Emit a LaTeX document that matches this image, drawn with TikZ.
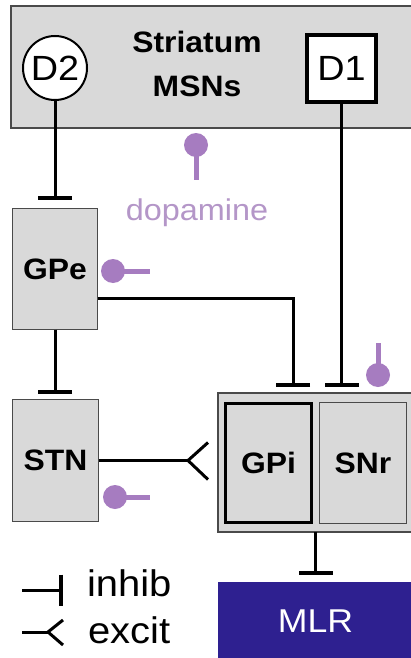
\documentclass[tikz,border=0pt]{standalone}
\usepackage{fontspec}
\setmainfont{Liberation Sans}[FakeStretch=1.08]
\usetikzlibrary{arrows.meta,calc}
\definecolor{boxgrey}{HTML}{D9D9D9}
\definecolor{edgegrey}{HTML}{4A4A4A}
\definecolor{purp}{HTML}{A67CC0}
\definecolor{purptext}{HTML}{B496C8}
\definecolor{mlrblue}{HTML}{2E2090}
\begin{document}
\begin{tikzpicture}[x=1pt,y=-1pt,
  region/.style={draw=edgegrey, line width=1.5pt, fill=boxgrey, inner sep=0pt, outer sep=0pt,
    font=\fontsize{29.5}{31}\selectfont\bfseries},
  lab/.style={inner sep=0pt, outer sep=0pt},
  boldlab/.style={lab, font=\fontsize{29.5}{31}\selectfont\bfseries},
  conn/.style={line width=3pt, black},
  inh/.style={conn, -{Bar[width=34pt, line width=4pt 0]}},
  inhsmall/.style={conn, -{Bar[width=31pt, line width=4pt 0]}},
  excitlines/.style={conn, line join=miter},
  dopa/.style={draw=purp, line width=5pt},
  legtext/.style={lab, font=\fontsize{37}{39}\selectfont}]
\useasboundingbox (0,0) rectangle (411,658);
\fill[white] (0,0) rectangle (411,658);

% Striatum
\node[region, minimum width=402pt, minimum height=122pt, anchor=north west] (str) at (11,6) {};
\node[boldlab, anchor=base] (strlab) at (197,53) {Striatum};
\node[boldlab, anchor=base] (msn) at (197,97) {MSNs};
\node[circle, draw, fill=white, line width=2pt, minimum size=64pt, inner sep=0pt,
  font=\fontsize{35}{37}\selectfont] (D2) at (55,68) {D2};
\node[draw, fill=white, line width=4pt, minimum width=69pt, minimum height=67pt, inner sep=0pt,
  font=\fontsize{35}{37}\selectfont] (D1) at (341.5,68.5) {D1};

% nuclei
\node[region, minimum width=85pt, minimum height=121pt] (GPe) at (55,269) {GPe};
\node[region, minimum width=86pt, minimum height=122pt] (STN) at (55.5,460.5) {STN};
\node[region, minimum width=195pt, minimum height=139pt] (gs) at (315.5,462.5) {};
\node[region, draw=black, line width=3pt, minimum width=86pt, minimum height=119pt] (GPi) at (268.5,463) {GPi};
\node[region, minimum width=87pt, minimum height=121pt] (SNr) at (363,463) {SNr};
\node[fill=mlrblue, draw=mlrblue, minimum width=195pt, minimum height=78pt, inner sep=0pt, text=white,
  font=\fontsize{33}{35}\selectfont] (MLR) at (315.5,621) {MLR};

% dopamine
\fill[purp] (196,145) circle (12pt);
\draw[dopa] (196,145) -- (196,180);
\node[lab, anchor=base, text=purptext, font=\fontsize{30}{32}\selectfont] (dopa) at (197,220) {dopamine};
\fill[purp] (113,271) circle (12pt);
\draw[dopa] (113,271) -- (150,271);
\fill[purp] (115,497) circle (12pt);
\draw[dopa] (115,497) -- (150,497);
\draw[dopa] (378,343) -- (378,375);
\fill[purp] (378,375) circle (12pt);

% connectors
\coordinate (gpiIn) at (293,393);
\coordinate (exV) at (188,460.5);
\draw[inh, shorten >=9pt] (D2.south) -- (D2.south |- GPe.north);
\draw[inh, shorten >=6pt] (GPe.south) -- (GPe.south |- STN.north);
\draw[inh, shorten >=6pt] ($(GPe.east)+(0,29)$) -| (gpiIn);
\draw[inh, shorten >=6pt] (D1.south) -- (D1.south |- gs.north);
\draw[inh, shorten >=7pt] (gs.south) -- (gs.south |- MLR.north);
\draw[conn] (STN.east) -- (exV);
\draw[excitlines] ($(exV)+(20,-18)$) -- (exV) -- ($(exV)+(20,19)$);

% legend
\coordinate (inhA) at (22,590);
\coordinate (inhB) at (63,590);
\draw[inhsmall] (inhA) -- (inhB);
\node[legtext, anchor=base west] (inhT) at (87,596) {inhib};
\coordinate (exA) at (22,632);
\coordinate (exB) at (48,632);
\draw[conn] (exA) -- (exB);
\draw[excitlines] ($(exB)+(15,-12)$) -- (exB) -- ($(exB)+(15,13)$);
\node[legtext, anchor=base west] (exT) at (88,643) {excit};
\end{tikzpicture}
\end{document}
